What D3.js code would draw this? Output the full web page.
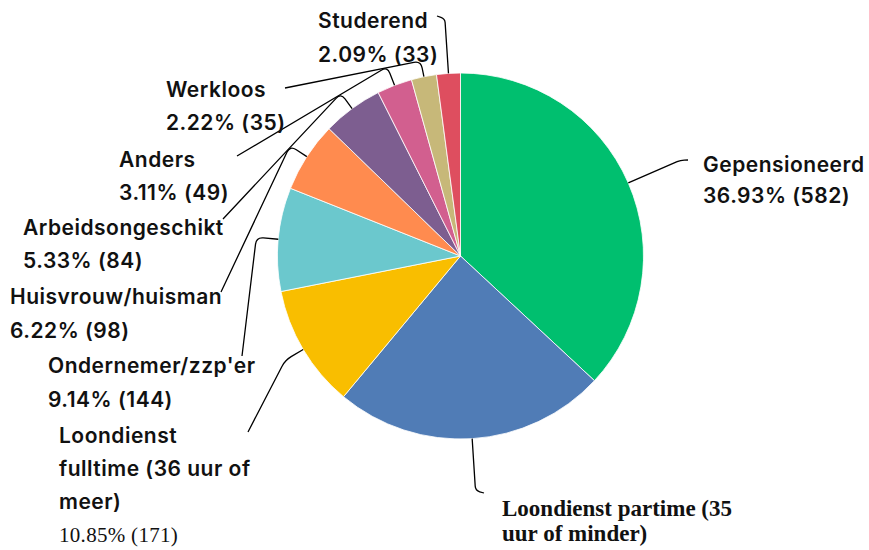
<!DOCTYPE html>
<html>
<head>
<meta charset="utf-8">
<script src="https://cdn.jsdelivr.net/npm/d3@7"></script>
<style>
  html, body { margin: 0; padding: 0; background: #fff; }
  svg { display: block; }
  .lbl { font-family: Inter, "Noto Sans", sans-serif; font-weight: 600; font-size: 21px; letter-spacing: 0.5px; fill: #111; }
  .lbl.serif { font-family: "Liberation Serif", serif; font-weight: 700; font-size: 23px; letter-spacing: 0; }
  .lbl .plain { font-family: "Liberation Serif", serif; font-weight: 400; font-size: 21px; letter-spacing: 0.3px; }
  .leader { fill: none; stroke: #000; stroke-width: 1.3; }
</style>
</head>
<body>
<svg id="chart" width="869" height="550"></svg>
<script>
// answers, clockwise from 12 o'clock
const categories = [
  "Gepensioneerd",
  "Loondienst partime (35 uur of minder)",
  "Loondienst fulltime (36 uur of meer)",
  "Ondernemer/zzp'er",
  "Huisvrouw/huisman",
  "Arbeidsongeschikt",
  "Anders",
  "Werkloos",
  "Studerend"
];
const counts = [582, 380, 171, 144, 98, 84, 49, 35, 33];
const percents = [36.93, 24.11, 10.85, 9.14, 6.22, 5.33, 3.11, 2.22, 2.09];
const colors = ["#00BF6F", "#507CB6", "#F9BE00", "#6BC8CD", "#FF8B4F", "#7D5E90", "#D25F8F", "#C7B879", "#DE4E5F"];

// how the label text wraps
const labelLines = [
  ["Gepensioneerd"],
  ["Loondienst partime (35", "uur of minder)"],
  ["Loondienst", "fulltime (36 uur of", "meer)"],
  ["Ondernemer/zzp'er"],
  ["Huisvrouw/huisman"],
  ["Arbeidsongeschikt"],
  ["Anders"],
  ["Werkloos"],
  ["Studerend"]
];

// label placement (as laid out in the original), leader end point and elbow distance
const labelLayout = [
  { x: 703, y: 172, lh: 31, end: [688, 160], ext: 57 },
  { x: 502, y: 516, lh: 25, end: [484, 493], ext: 52, serif: true },
  { x: 59,  y: 443, lh: 33, end: [248, 432], ext: 21, plainValue: true },
  { x: 48,  y: 373, lh: 34, end: [242, 356], ext: 22 },
  { x: 10,  y: 304, lh: 34, end: [221, 292], ext: 20 },
  { x: 23,  y: 235, lh: 33, end: [223, 219], ext: 19 },
  { x: 119, y: 167, lh: 33, end: [237, 156], ext: 20 },
  { x: 166, y: 97,  lh: 33, end: [285, 88],  ext: 16 },
  { x: 318, y: 28,  lh: 34, end: [437, 16],  ext: 55 }
];

const W = 869, H = 550;
const CX = 460.5, CY = 256, R = 183;

const svg = d3.select('#chart');
const g = svg.append('g').attr('transform', `translate(${CX},${CY})`);

const pie = d3.pie().sort(null).value(d => d);
const arcs = pie(counts);
const arc = d3.arc().innerRadius(0).outerRadius(R);

g.selectAll('path.slice')
  .data(arcs)
  .join('path')
  .attr('class', 'slice')
  .attr('d', arc)
  .attr('fill', (d, i) => colors[i])
  .attr('stroke', '#fff')
  .attr('stroke-width', 0.8);

const polar = (a, r) => [CX + r * Math.sin(a), CY - r * Math.cos(a)];

// straight segments with a small rounded corner at the elbow
function leaderPath(p0, p1, p2, rad) {
  const l1 = Math.hypot(p1[0] - p0[0], p1[1] - p0[1]);
  const l2 = Math.hypot(p2[0] - p1[0], p2[1] - p1[1]);
  const r = Math.min(rad, l1 / 2, l2 / 2);
  const a = [p1[0] - (p1[0] - p0[0]) / l1 * r, p1[1] - (p1[1] - p0[1]) / l1 * r];
  const b = [p1[0] + (p2[0] - p1[0]) / l2 * r, p1[1] + (p2[1] - p1[1]) / l2 * r];
  return `M${p0[0]},${p0[1]}L${a[0]},${a[1]}Q${p1[0]},${p1[1]} ${b[0]},${b[1]}L${p2[0]},${p2[1]}`;
}

svg.selectAll('path.leader')
  .data(arcs)
  .join('path')
  .attr('class', 'leader')
  .attr('d', (d, i) => {
    const mid = (d.startAngle + d.endAngle) / 2;
    const lay = labelLayout[i];
    return leaderPath(polar(mid, R), polar(mid, R + lay.ext), lay.end, 7);
  });

const labels = svg.selectAll('text.lbl')
  .data(arcs)
  .join('text')
  .attr('class', (d, i) => labelLayout[i].serif ? 'lbl serif' : 'lbl');

labels.each(function (d, i) {
  const lay = labelLayout[i];
  const lines = labelLines[i].concat([`${percents[i].toFixed(2)}% (${counts[i]})`])
    .map((t, j) => ({ t, j, y: lay.y + j * lay.lh }));
  const last = lines.length - 1;
  // the original cuts off whatever falls below the chart frame
  d3.select(this).selectAll('tspan')
    .data(lines.filter(l => l.y < H))
    .join('tspan')
    .attr('x', lay.x)
    .attr('y', l => l.y)
    .attr('class', l => (lay.plainValue && l.j === last) ? 'plain' : null)
    .text(l => l.t);
});
</script>
</body>
</html>
